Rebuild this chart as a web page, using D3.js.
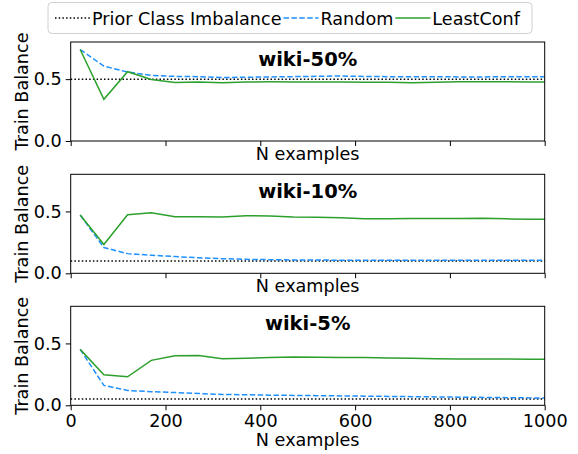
<!DOCTYPE html>
<html lang="en">
<head>
  <meta charset="utf-8">
  <title>Train balance</title>
  <script src="https://d3js.org/d3.v7.min.js"></script>
  <style>
    body { margin: 0; background: #fff; }
    text { font-family: "DejaVu Sans", sans-serif; }
  </style>
</head>
<body>
<script>
// sample sizes
var nExamples = [20, 70, 120, 170, 220, 270, 320, 370, 420, 470, 520, 570, 620, 670, 720, 770, 820, 870, 920, 970, 1000];

var titles = ["wiki-50%", "wiki-10%", "wiki-5%"];
var priors = [0.5, 0.1, 0.05];

var random50 = [0.739, 0.605, 0.557, 0.530, 0.522, 0.520, 0.513, 0.515, 0.518, 0.520, 0.523, 0.525, 0.522, 0.520, 0.520, 0.519, 0.518, 0.518, 0.519, 0.520, 0.520];
var least50  = [0.739, 0.337, 0.560, 0.497, 0.472, 0.476, 0.470, 0.476, 0.478, 0.476, 0.476, 0.477, 0.475, 0.474, 0.470, 0.475, 0.478, 0.478, 0.478, 0.477, 0.477];

var random10 = [0.471, 0.208, 0.159, 0.146, 0.135, 0.125, 0.118, 0.113, 0.110, 0.108, 0.107, 0.106, 0.106, 0.105, 0.105, 0.105, 0.105, 0.105, 0.105, 0.105, 0.105];
var least10  = [0.471, 0.232, 0.473, 0.489, 0.457, 0.457, 0.455, 0.465, 0.463, 0.455, 0.453, 0.448, 0.440, 0.440, 0.442, 0.443, 0.443, 0.445, 0.440, 0.436, 0.437];

var random5 = [0.452, 0.161, 0.120, 0.110, 0.103, 0.095, 0.088, 0.085, 0.082, 0.080, 0.078, 0.076, 0.074, 0.072, 0.070, 0.068, 0.066, 0.064, 0.062, 0.060, 0.060];
var least5  = [0.452, 0.247, 0.230, 0.363, 0.400, 0.402, 0.376, 0.380, 0.386, 0.390, 0.388, 0.386, 0.386, 0.383, 0.380, 0.376, 0.375, 0.375, 0.374, 0.373, 0.372];

var randomSeries = [random50, random10, random5];
var leastSeries = [least50, least10, least5];

var xTicks = [0, 200, 400, 600, 800, 1000];
var yTicks = [0, 0.5];

var w = 578, h = 454;
var fs = 17.6;
var left = 70.7, right = 544.7;
var panelTops = [42, 174.3, 306.3];
var panelH = 99;

var svg = d3.select("body").append("svg")
  .attr("width", w)
  .attr("height", h);

var x = d3.scaleLinear().domain([0, 1000]).range([left, right]);

var blue = "#1e90ff", green = "#2ca02c";

panelTops.forEach(function(top, p) {
  var y = d3.scaleLinear().domain([0, 0.8]).range([top + panelH, top]);
  var g = svg.append("g");

  // prior line
  g.append("line")
    .attr("x1", x(0)).attr("x2", x(1000))
    .attr("y1", y(priors[p])).attr("y2", y(priors[p]))
    .attr("stroke", "#000").attr("stroke-width", 1.5)
    .attr("stroke-dasharray", "1.5,2.2");

  var line = d3.line()
    .x(function(d, i) { return x(nExamples[i]); })
    .y(function(d) { return y(d); });

  g.append("path").datum(randomSeries[p])
    .attr("d", line).attr("fill", "none")
    .attr("stroke", blue).attr("stroke-width", 1.5)
    .attr("stroke-dasharray", "5.5,2.4");

  g.append("path").datum(leastSeries[p])
    .attr("d", line).attr("fill", "none")
    .attr("stroke", green).attr("stroke-width", 1.5);

  // frame
  g.append("rect")
    .attr("x", left).attr("y", top)
    .attr("width", right - left).attr("height", panelH)
    .attr("fill", "none").attr("stroke", "#000").attr("stroke-width", 1);

  var xAxis = d3.axisBottom(x).tickValues(xTicks).tickFormat(d3.format("d")).tickSize(5).tickPadding(4);
  if (p < 2) xAxis.tickFormat("");
  var gx = g.append("g")
    .attr("transform", "translate(0," + (top + panelH) + ")")
    .call(xAxis);
  gx.select(".domain").remove();
  gx.selectAll("text").style("font-size", fs + "px").style("font-family", "DejaVu Sans").attr("fill", "#000");

  var gy = g.append("g")
    .attr("transform", "translate(" + left + ",0)")
    .call(d3.axisLeft(y).tickValues(yTicks).tickFormat(d3.format(".1f")).tickSize(5).tickPadding(4));
  gy.select(".domain").remove();
  gy.selectAll("text").style("font-size", fs + "px").style("font-family", "DejaVu Sans").attr("fill", "#000");

  // title
  g.append("text")
    .attr("x", (left + right) / 2).attr("y", top + 24)
    .attr("text-anchor", "middle")
    .style("font-size", "19.5px").style("font-weight", "bold")
    .text(titles[p]);

  // axis labels
  g.append("text")
    .attr("x", (left + right) / 2)
    .attr("y", p < 2 ? top + panelH + 19 : top + panelH + 41)
    .attr("text-anchor", "middle")
    .style("font-size", fs + "px")
    .text("N examples");

  g.append("text")
    .attr("transform", "translate(28," + (top + panelH / 2) + ") rotate(-90)")
    .attr("text-anchor", "middle")
    .style("font-size", fs + "px")
    .text("Train Balance");
});

// legend
var legendItems = [
  { label: "Prior Class Imbalance", color: "#000", dash: "1.5,2.2" },
  { label: "Random", color: blue, dash: "5.5,2.4" },
  { label: "LeastConf", color: green, dash: null }
];

var legend = svg.append("g");
legend.append("rect")
  .attr("x", 48).attr("y", 2.5)
  .attr("width", 484).attr("height", 31)
  .attr("rx", 4)
  .attr("fill", "#fff").attr("stroke", "#d0d0d0");

var lx = 55;
legendItems.forEach(function(item) {
  legend.append("line")
    .attr("x1", lx).attr("x2", lx + 35)
    .attr("y1", 18).attr("y2", 18)
    .attr("stroke", item.color).attr("stroke-width", 1.5)
    .attr("stroke-dasharray", item.dash);
  lx += 37;
  var t = legend.append("text")
    .attr("x", lx).attr("y", 24.5)
    .style("font-size", fs + "px")
    .text(item.label);
  lx += t.node().getComputedTextLength() + 2;
});
</script>
</body>
</html>
